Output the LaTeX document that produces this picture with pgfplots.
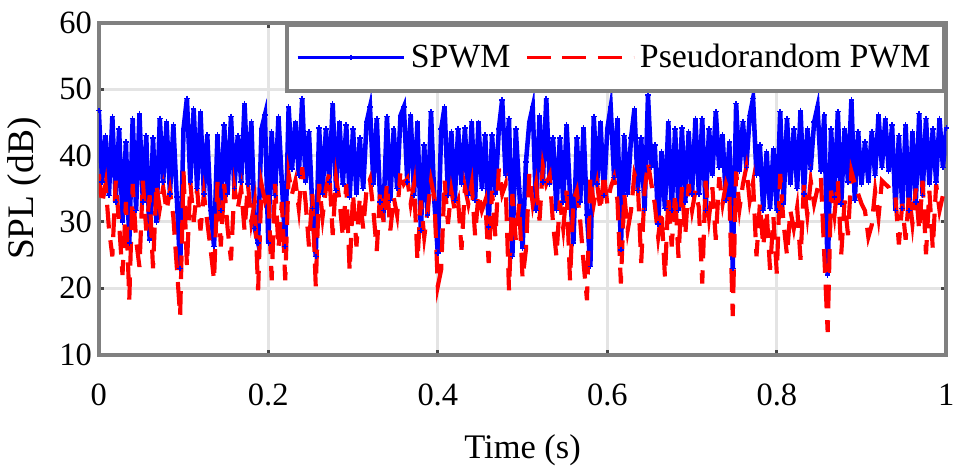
\documentclass[border=0pt]{standalone}
\usepackage{fontspec}
\setmainfont{Liberation Serif}
\usepackage{pgfplots}
\usepackage{pgfplotstable}
\pgfplotsset{compat=1.18}
\definecolor{framegray}{RGB}{128,128,128}
\definecolor{gridgray}{RGB}{228,228,228}
\definecolor{tickgray}{RGB}{70,70,70}

\pgfplotstableread{
t v
0.000 46.8
0.004 36
0.008 43
0.012 34
0.016 45.9
0.020 33
0.024 44
0.028 30
0.032 42
0.036 26.8
0.040 45.6
0.044 31.7
0.048 46.3
0.052 33
0.056 43
0.060 27.3
0.064 42.6
0.068 30
0.072 45.6
0.076 36
0.080 45.1
0.084 34.2
0.088 44.6
0.092 33.7
0.096 23
0.100 44
0.104 48.6
0.108 36
0.112 47
0.116 35
0.120 46.6
0.124 34.2
0.128 43.1
0.132 31.7
0.136 26.3
0.140 43.1
0.144 31.7
0.148 44.6
0.152 34.2
0.156 45.9
0.160 35
0.164 43
0.168 36
0.172 47.8
0.176 35.7
0.180 45.1
0.184 29
0.188 26.8
0.192 44
0.196 46.1
0.200 26.8
0.204 43.6
0.208 34
0.212 45.9
0.216 36
0.220 26.3
0.224 47.3
0.228 38
0.232 45
0.236 37
0.240 48.6
0.244 36
0.248 43.6
0.252 32
0.256 24.8
0.260 44.1
0.264 34.2
0.268 44
0.272 36
0.276 47.8
0.280 34.7
0.284 45
0.288 35.7
0.292 44.6
0.296 33.7
0.300 44
0.304 34.2
0.308 42.6
0.312 35
0.316 45
0.320 47.3
0.324 35.7
0.328 45.6
0.332 33
0.336 31.7
0.340 45.9
0.344 33.2
0.348 44
0.352 35
0.356 46
0.360 47.3
0.364 36
0.368 46.1
0.372 34
0.376 45
0.380 28.7
0.384 41.6
0.388 31
0.392 46.6
0.396 33
0.400 25.3
0.404 44
0.408 47.3
0.412 34
0.416 43.6
0.420 33.2
0.424 44
0.428 35.7
0.432 44.1
0.436 34
0.440 45.1
0.444 33.2
0.448 45
0.452 35
0.456 43.1
0.460 29.2
0.464 43.1
0.468 34.2
0.472 44
0.476 48.4
0.480 37
0.484 45.6
0.488 24.8
0.492 44
0.496 35
0.500 26
0.504 39
0.508 45
0.512 47.3
0.516 31.7
0.520 46
0.524 36
0.528 48.6
0.532 35.7
0.536 42.6
0.540 31.7
0.544 42.6
0.548 33
0.552 44.6
0.556 34
0.560 26.8
0.564 42.6
0.568 33
0.572 44.1
0.576 31
0.580 23.3
0.584 45.9
0.588 35.7
0.592 45
0.596 34
0.600 44
0.604 47.3
0.608 36.7
0.612 45.6
0.616 25.8
0.620 43
0.624 34.2
0.628 42.6
0.632 47
0.636 34.7
0.640 42.6
0.644 31.7
0.648 49.1
0.652 38.2
0.656 41.6
0.660 29.7
0.664 40.6
0.668 32
0.672 45.1
0.676 31.7
0.680 44
0.684 31.7
0.688 44.1
0.692 33
0.696 43.6
0.700 34.2
0.704 45.6
0.708 34.2
0.712 45.6
0.716 31.7
0.720 44
0.724 37
0.728 46.6
0.732 38.2
0.736 43.1
0.740 33.2
0.744 42
0.748 23
0.752 47.8
0.756 37.7
0.760 45.1
0.764 38.2
0.768 46
0.772 48.6
0.776 37
0.780 41.6
0.784 31.7
0.788 40.6
0.792 32
0.796 41
0.800 31.7
0.804 46.6
0.808 32.7
0.812 45.6
0.816 35.7
0.820 44
0.824 35
0.828 46.8
0.832 34.2
0.836 44
0.840 38
0.844 45
0.848 47.3
0.852 37.7
0.856 46.1
0.860 22
0.864 44
0.868 33.7
0.872 46.6
0.876 32.7
0.880 44
0.884 36
0.888 48.4
0.892 33.2
0.896 43.6
0.900 35.7
0.904 42
0.908 36
0.912 43.6
0.916 37
0.920 46.1
0.924 38.2
0.928 45.5
0.932 37.7
0.936 44.6
0.940 31.7
0.944 43
0.948 32
0.952 44.6
0.956 31.7
0.960 43.6
0.964 33
0.968 46.3
0.972 34
0.976 45.6
0.980 35.7
0.984 44
0.988 36
0.992 45.6
0.996 38.2
1.000 44.1
}\spwm

\pgfplotstableread{
t v
0.000 37.2
0.004 32.7
0.008 35.7
0.012 29
0.016 24.8
0.020 36.2
0.024 29.7
0.028 22
0.032 33
0.036 18.3
0.040 35.7
0.044 27.3
0.048 23.2
0.052 36.2
0.056 28.7
0.060 34
0.064 23
0.068 35.7
0.072 32
0.076 35.2
0.080 31.7
0.084 34.7
0.088 30.7
0.092 23.3
0.096 15.8
0.100 37.6
0.104 23.3
0.108 36
0.112 30
0.116 35
0.120 28.7
0.124 34.2
0.128 30
0.132 25.8
0.136 21.2
0.140 36
0.144 26.3
0.148 35.7
0.152 29
0.156 24.2
0.160 35.2
0.164 32
0.168 35
0.172 28.7
0.176 35.7
0.180 30
0.184 33
0.188 19.7
0.192 35.7
0.196 33.2
0.200 34.7
0.204 21.2
0.208 35.7
0.212 26
0.216 33
0.220 21.2
0.224 37.2
0.228 34.2
0.232 36.2
0.236 32
0.240 38.2
0.244 33
0.248 26.3
0.252 34.2
0.256 20.3
0.260 35.7
0.264 30.7
0.268 35
0.272 37.4
0.276 28
0.280 36.7
0.284 33.2
0.288 27.7
0.292 35.7
0.296 22.6
0.300 34.2
0.304 26.3
0.308 33.7
0.312 29
0.316 35
0.320 36.4
0.324 31.7
0.328 25.6
0.332 34.7
0.336 30
0.340 35.7
0.344 28.7
0.348 33.7
0.352 31
0.356 37.7
0.360 35.7
0.364 36.5
0.368 32.7
0.372 35.7
0.376 24.2
0.380 33.2
0.384 27.7
0.388 31.7
0.392 36.2
0.396 33.7
0.400 20.3
0.404 22.8
0.408 36.2
0.412 29.7
0.416 34.7
0.420 31.7
0.424 33.2
0.428 25.8
0.432 35.2
0.436 32.7
0.440 35.7
0.444 28
0.448 34.2
0.452 31.7
0.456 33.2
0.460 23.8
0.464 34.7
0.468 27.7
0.472 38
0.476 34.2
0.480 35.7
0.484 19.7
0.488 34.2
0.492 27.3
0.496 32.7
0.500 21.5
0.504 25.8
0.508 37.2
0.512 32.7
0.516 35.7
0.520 30.2
0.524 38.4
0.528 35.7
0.532 37
0.536 29.7
0.540 24.8
0.544 33.2
0.548 29
0.552 34.7
0.556 21.2
0.560 33.2
0.564 34.7
0.568 30.2
0.572 23.8
0.576 18.2
0.580 36.7
0.584 32.7
0.588 35.7
0.592 31.7
0.596 37.2
0.600 32.7
0.604 35.2
0.608 36.7
0.612 33.2
0.616 20.7
0.620 34.2
0.624 28.7
0.628 31.7
0.632 37.2
0.636 35.7
0.640 23.8
0.644 34.7
0.648 38.9
0.652 35.7
0.656 32.7
0.660 27.7
0.664 31.7
0.668 21.7
0.672 33.7
0.676 26.3
0.680 34.2
0.684 24.6
0.688 35.2
0.692 28
0.696 35.7
0.700 31.7
0.704 34.7
0.708 32.2
0.712 20.7
0.716 36.2
0.720 30.7
0.724 35.2
0.728 27.3
0.732 36.7
0.736 32.7
0.740 35.7
0.744 34.2
0.748 15.8
0.752 37.6
0.756 32
0.760 35.7
0.764 38.2
0.768 33.2
0.772 36
0.776 24.8
0.780 32.7
0.784 26.3
0.788 31.7
0.792 22.8
0.796 30.7
0.800 22.2
0.804 37.2
0.808 29.7
0.812 25
0.816 31.7
0.820 29
0.824 32.2
0.828 24.3
0.832 35.7
0.836 31
0.840 36.2
0.844 32.7
0.848 35
0.852 36.7
0.856 25
0.860 13.4
0.864 34.7
0.868 31
0.872 36.2
0.876 25.1
0.880 33.2
0.884 28
0.888 37.6
0.892 35.7
0.896 34.2
0.900 32.7
0.904 31.7
0.908 27.7
0.912 29.5
0.916 34.7
0.920 30.7
0.924 36.2
0.928 35.7
0.932 35.2
0.936 34
0.940 33.7
0.944 26.6
0.948 32.7
0.952 27.3
0.956 34.2
0.960 29.7
0.964 35
0.968 28.7
0.972 36.2
0.976 25.1
0.980 34.7
0.984 26
0.988 35.7
0.992 31.7
0.996 34
1.000 32.7
}\prpwm

\begin{document}
\begin{tikzpicture}
\begin{axis}[
  scale only axis,
  width=429bp, height=168bp,
  xmin=0, xmax=1, ymin=10, ymax=60,
  xtick={0,0.2,0.4,0.6,0.8,1},
  xticklabels={0,0.2,0.4,0.6,0.8,1},
  ytick={10,20,30,40,50,60},
  yticklabels={10,20,30,40,50,60},
  /pgf/number format/assume math mode=true,
  tick align=inside,
  major tick length=2.5bp,
  tick style={tickgray, line width=1.5bp},
  grid=major,
  major grid style={gridgray, line width=1.5bp},
  axis line style={framegray, line width=2bp},
  tick label style={font=\fontsize{16.5}{19}\selectfont, black},
  xticklabel style={yshift=-11.5bp},
  xlabel={Time (s)},
  ylabel={SPL (dB)},
  xlabel style={font=\fontsize{17.5}{20}\selectfont, at={(axis description cs:0.5,-0.24)}, anchor=north, inner sep=0pt},
  ylabel style={font=\fontsize{19}{22}\selectfont, at={(axis description cs:-0.0676,0.5)}, anchor=south, inner sep=0pt},
  legend columns=2,
  legend style={at={(1,1)}, anchor=north east, draw=framegray, line width=2bp,
    fill=white, font=\fontsize{17.2}{20}\selectfont,
    inner xsep=4.5bp, inner ysep=8bp,
    nodes={inner xsep=2.5bp},
    /tikz/every even column/.append style={column sep=5bp}},
  legend image code/.code={
    \draw[#1, line width=1.5bp, mark repeat=2, mark phase=2] plot coordinates {(0bp,0bp) (27bp,0bp) (54bp,0bp)};
  },
]
\addplot[blue, line width=2.3bp, mark=+, mark size=1.4bp, mark options={solid, line width=0.8bp}] table[x=t, y=v] {\spwm};
\addlegendentry{SPWM}
\addplot[red, line width=2.1bp, dash pattern=on 12bp off 6bp] table[x=t, y=v] {\prpwm};
\addlegendentry{Pseudorandom PWM}
\end{axis}
\path (current axis.south west) ++(-50bp,-55bp) coordinate (bbA);
\path (current axis.north east) ++(1.5bp,11.5bp) coordinate (bbB);
\path (bbA) rectangle (bbB);
\end{tikzpicture}
\end{document}
